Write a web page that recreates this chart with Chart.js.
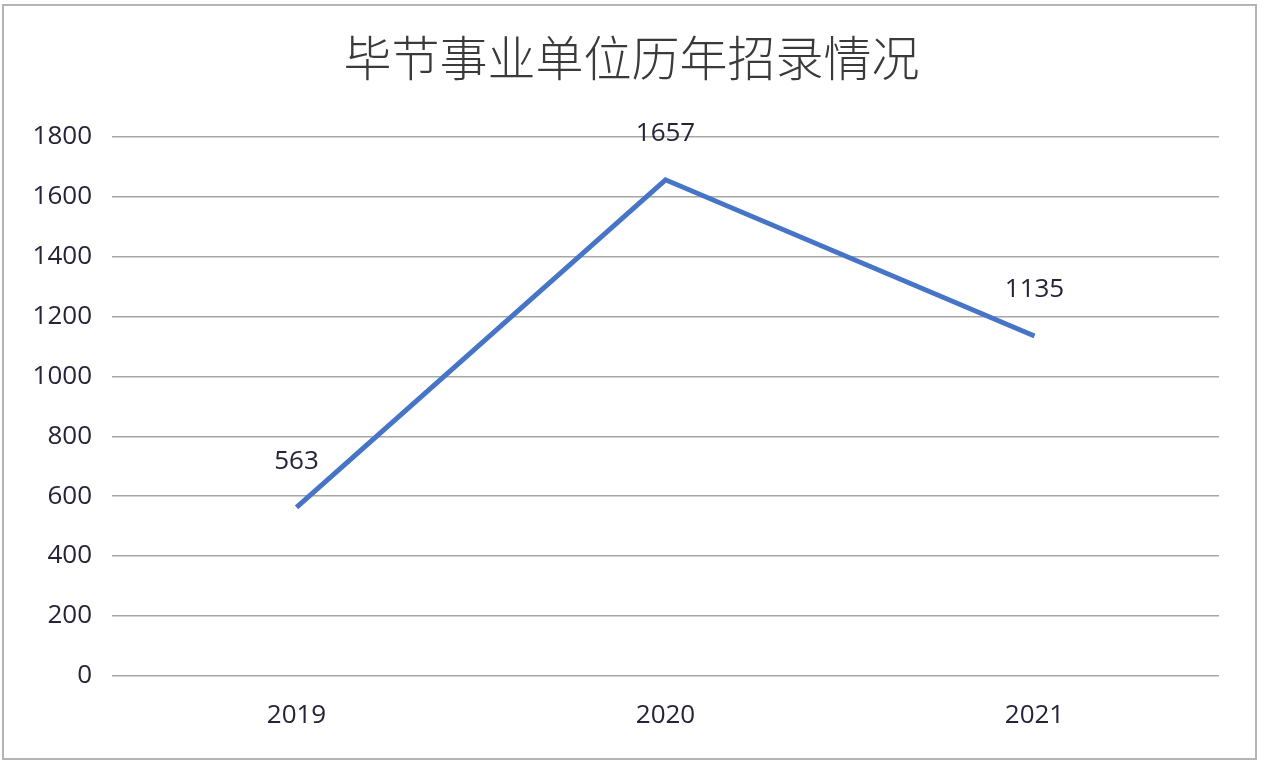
<!DOCTYPE html>
<html>
<head>
<meta charset="utf-8">
<script src="https://cdn.jsdelivr.net/npm/chart.js@4.4.1/dist/chart.umd.min.js"></script>
<style>
  html, body { margin: 0; padding: 0; background: #ffffff; }
  #frame {
    position: absolute;
    left: 2px;
    top: 4px;
    width: 1255px;
    height: 756px;
    border: 2px solid #b4b4b4;
    box-sizing: border-box;
    background: #ffffff;
  }
</style>
</head>
<body>
<div id="frame"><canvas id="chart"></canvas></div>
<script>
const chartTitle = "毕节事业单位历年招录情况";
const years = ["2019", "2020", "2021"];
const hires = [563, 1657, 1135];
const yTicks = [0, 200, 400, 600, 800, 1000, 1200, 1400, 1600, 1800];

const textColor = "#262338";
const fontFamily = "'Open Sans', 'Noto Sans', sans-serif";

// title centred on the whole frame, not on the layout box
const frameTitle = {
  id: "frameTitle",
  afterDraw(chart) {
    const ctx = chart.ctx;
    ctx.save();
    ctx.fillStyle = "#3a3a3a";
    ctx.font = "300 48px 'Noto Sans CJK SC', sans-serif";
    ctx.textAlign = "center";
    ctx.textBaseline = "middle";
    ctx.fillText(chartTitle, chart.width / 2 + 2, 52);
    ctx.restore();
  },
};

const valueLabels = {
  id: "valueLabels",
  afterDatasetsDraw(chart) {
    const ctx = chart.ctx;
    const meta = chart.getDatasetMeta(0);
    ctx.save();
    ctx.fillStyle = textColor;
    ctx.font = `26px ${fontFamily}`;
    ctx.textAlign = "center";
    ctx.textBaseline = "middle";
    meta.data.forEach((point, index) => {
      ctx.fillText(String(hires[index]), point.x, point.y - 46);
    });
    ctx.restore();
  },
};

new Chart(document.getElementById("chart"), {
  type: "line",
  data: {
    labels: years,
    datasets: [
      {
        data: hires,
        borderColor: "#4674c6",
        borderWidth: 5,
        pointRadius: 0,
        tension: 0,
        fill: false,
      },
    ],
  },
  options: {
    responsive: true,
    maintainAspectRatio: false,
    animation: false,
    layout: { padding: { left: 0, right: 36, bottom: 3, top: 131 } },
    plugins: {
      legend: { display: false },
      tooltip: { enabled: false },
      title: { display: false },
    },
    scales: {
      x: {
        offset: true,
        grid: { display: false, drawTicks: false },
        border: { display: false },
        ticks: { color: textColor, font: { family: fontFamily, size: 26 }, padding: 24 },
      },
      y: {
        min: 0,
        max: 1800,
        afterBuildTicks(scale) {
          scale.ticks = yTicks.map((value) => ({ value }));
        },
        afterFit(scale) {
          scale.width = 108;
        },
        grid: { color: "#a6a6a6", lineWidth: 1.5, drawTicks: false },
        border: { display: false },
        ticks: {
          color: textColor,
          font: { family: fontFamily, size: 26 },
          padding: 20,
          callback(value) {
            return String(value);
          },
        },
      },
    },
  },
  plugins: [valueLabels, frameTitle],
});
</script>
</body>
</html>
